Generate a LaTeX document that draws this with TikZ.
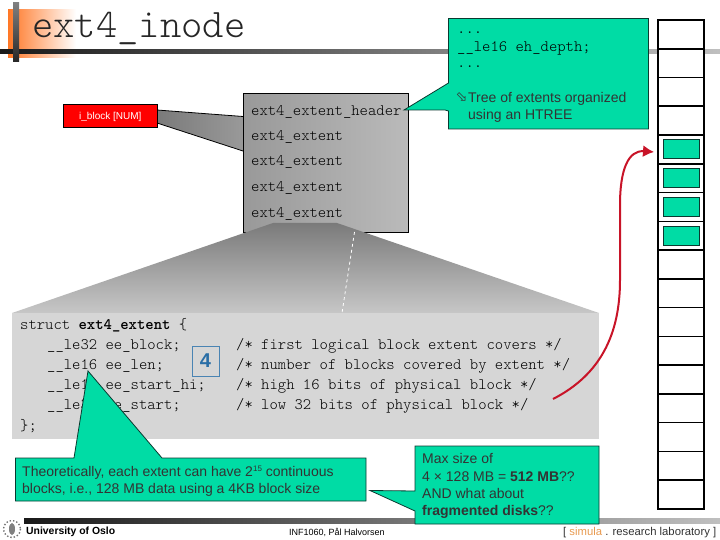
\documentclass[tikz,border=0pt]{standalone}
\usepackage{fontspec}
\setmainfont{Liberation Sans}
\setmonofont{Latin Modern Mono Light}
\newfontfamily\symbfont{DejaVu Sans}
\usetikzlibrary{arrows.meta}
\definecolor{calloutfill}{HTML}{00DCA5}
\definecolor{calloutline}{HTML}{0A3A30}
\definecolor{arrowred}{HTML}{C81428}
\definecolor{numblue}{HTML}{2A6EA6}
\definecolor{simulaorange}{HTML}{E89A50}
\tikzset{
    codetext/.style={anchor=base west, inner sep=0pt, font=\fontsize{15.9}{18}\selectfont\ttfamily},
    saytext/.style={anchor=base west, inner sep=0pt, font=\fontsize{14}{17}\selectfont, text=black!80},
    callout/.style={draw=calloutline, line width=0.8pt, fill=calloutfill},
    slotbox/.style={draw=black, line width=1.6pt, fill=white},
    slotfill/.style={draw=calloutline, line width=0.8pt, fill=calloutfill}
}
\begin{document}
\begin{tikzpicture}[x=1pt, y=-1pt]
    \useasboundingbox (0,0) rectangle (720,540);
    % title bar
    \shade[left color=orange!75!red!85, right color=white] (8,10) rectangle (76,58);
    \shade[left color=black!90, right color=black!25] (0,50) rectangle (720,54);
    \shade[top color=black!50, bottom color=black!85] (13,3) rectangle (19,62);
    \node[codetext, font=\fontsize{40.6}{44}\selectfont\ttfamily, text=black!85] (title) at (32,38) {ext4\_inode};
    % footer
    \shade[left color=black!90, right color=black!25] (24,518) rectangle (720,523);
    \draw[black!55, line width=1.4pt, dotted] (12,529) circle (8.5);
    \fill[black!50] (12,529) ellipse (3 and 6);
    \node[saytext, font=\fontsize{10.4}{12}\selectfont\bfseries, text=black] (uio) at (26,534) {University of Oslo};
    \node[saytext, font=\fontsize{9}{11}\selectfont, text=black] (course) at (289,535) {INF1060, Pål Halvorsen};
    \node[saytext, font=\fontsize{11.3}{13}\selectfont, text=black!80] (simula) at (563,535) {[ \textcolor{simulaorange}{simula} . research laboratory ]};
    % inode field and the wedge to the block
    \shade[left color=black!52, right color=black!40] (157,110) -- (243,116.5) -- (243,151) -- (157,123) -- cycle;
    \draw[black, line width=0.8pt] (157,110) -- (243,116.5) (243,151) -- (157,123);
    \draw[draw=black, fill=red, line width=0.8pt] (63,104) rectangle (157,127);
    \node[saytext, font=\fontsize{10}{12}\selectfont, text=white] (iblock) at (79,120) {i\_block [NUM]};
    \shade[left color=black!40, right color=black!27, draw=black, line width=0.8pt] (243.5,93.5) rectangle (408.5,232);
    % zoom funnel
    \shade[top color=black!52, middle color=black!29, bottom color=black!22] (12,313) -- (273,223) -- (337,223) -- (599,313) -- cycle;
    \draw[white, line width=0.8pt, dashed] (354.5,232) -- (342,313);
    \node[codetext] (hdr) at (251,116) {ext4\_extent\_header};
    \node[codetext] (ext1) at (251,141) {ext4\_extent};
    \node[codetext] (ext2) at (251,166) {ext4\_extent};
    \node[codetext] (ext3) at (251,192) {ext4\_extent};
    \node[codetext] (ext4) at (251,217.5) {ext4\_extent};
    % struct panel
    \fill[black!16] (12,313) rectangle (599,439);
    \node[codetext] (line1) at (20,329) {struct \textbf{ext4\_extent} \{};
    \node[codetext] (line2) at (47,349) {\_\_le32 ee\_block;};
    \node[codetext] (line3) at (47,369) {\_\_le16 ee\_len;};
    \node[codetext] (line4) at (47,389) {\_\_le16 ee\_start\_hi;};
    \node[codetext] (line5) at (47,409) {\_\_le32 ee\_start;};
    \node[codetext] (line6) at (20,430) {\};};
    \node[codetext] (note1) at (236,349) {/* first logical block extent covers */};
    \node[codetext] (note2) at (236,369) {/* number of blocks covered by extent */};
    \node[codetext] (note3) at (236,389) {/* high 16 bits of physical block */};
    \node[codetext] (note4) at (236,409) {/* low 32 bits of physical block */};
    \node[draw=numblue!85, line width=0.8pt, minimum width=27, minimum height=30, inner sep=0pt, text=numblue, font=\fontsize{20}{22}\selectfont\bfseries] (four) at (205.5,361) {4};
    % array of blocks
    \foreach \row in {0,...,16}
        \draw[slotbox] (658,{20+28.76*\row}) rectangle (704,{20+28.76*(\row+1)});
    \foreach \row in {4,...,7}
        \draw[slotfill] (663,{139.5+28.9*(\row-4)}) rectangle (699,{158.5+28.9*(\row-4)});
    % top callout
    \draw[callout] (448.5,18.5) -- (648.5,18.5) -- (648.5,129) -- (448.5,129) -- (448.5,111) -- (445,110) -- (404,110) -- (448.5,83) -- cycle;
    \node[codetext] (dots1) at (457,34) {...};
    \node[codetext] (depth) at (457,51.5) {\_\_le16 eh\_depth;};
    \node[codetext] (dots2) at (457,68) {...};
    \node[inner sep=0pt, rotate=-45, font=\fontsize{14}{15}\selectfont\symbfont, text=black!80] (mark) at (461.5,98) {⇨};
    \node[saytext] (tree1) at (468,103) {Tree of extents organized};
    \node[saytext] (tree2) at (468,120) {using an HTREE};
    % red arrow
    \coordinate (arrowfrom) at (553,399);
    \coordinate (arrowto) at (654,152);
    \draw[arrowred, line width=2pt, -{Latex[length=11pt,width=12pt]}] (arrowfrom) .. controls (600,375) and (620,335) .. (620,280) -- (620,205) .. controls (620,170) and (628,150) .. (arrowto);
    % lower callouts
    \draw[callout] (15.5,458) -- (74,458) -- (88,371) -- (162,458) -- (366,458) -- (366,501) -- (15.5,501) -- cycle;
    \node[saytext] (theory1) at (22,476) {Theoretically, each extent can have 2\raisebox{4.5pt}{\fontsize{8}{8}\selectfont 15} continuous};
    \node[saytext] (theory2) at (22,493) {blocks, i.e., 128 MB data using a 4KB block size};
    \draw[callout] (415,446) -- (599,446) -- (599,524) -- (415,524) -- (415,511) -- (370,490.5) -- (415,491) -- cycle;
    \node[saytext] (max1) at (422,463) {Max size of};
    \node[saytext] (max2) at (422,481) {4 × 128 MB = \textbf{512 MB}??};
    \node[saytext] (max3) at (422,498) {AND what about};
    \node[saytext] (max4) at (422,515) {\textbf{fragmented disks}??};
\end{tikzpicture}
\end{document}
